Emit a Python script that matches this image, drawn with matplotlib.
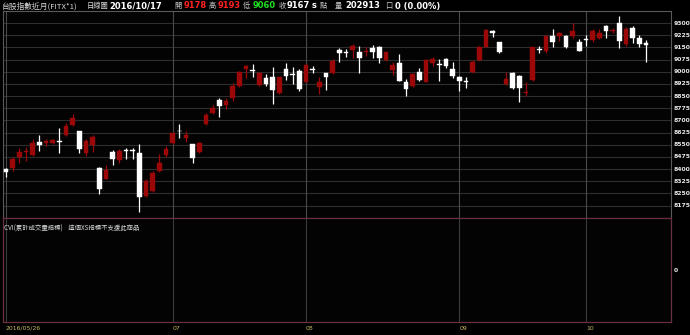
import numpy as np
import matplotlib
matplotlib.use("Agg")
import matplotlib.pyplot as plt

plt.rcParams['font.family'] = ['Noto Sans CJK TC', 'DejaVu Sans']

# daily candles (open, high, low, close), 2016/05/26 .. 2016/10/17
opens = [8399, 8407, 8476, 8503, 8487, 8565, 8559, 8563, 8573, 8610,
         8672, 8635, 8497, 8548, 8409, 8341, 8503, 8456, 8515, 8517,
         8497, 8234, 8267, 8388, 8487, 8559, 8637, 8593, 8553, 8503,
         8678, 8747, 8826, 8795, 8840, 8914, 9015, 9010, 8918, 8963,
         8966, 8867, 9015, 8986, 9004, 8938, 9017, 8908, 8990, 8990,
         9134, 9119, 9134, 9123, 9121, 9148, 9154, 9072, 9010, 9052,
         8938, 8914, 9000, 8938, 9052, 9047, 9076, 9017, 8969, 8945,
         8996, 9072, 9154, 9251, 9181, 8924, 8994, 8973, 8867, 8949,
         9140, 9129, 9220, 9220, 9222, 9222, 9181, 9199, 9195, 9210,
         9282, 9251, 9302, 9169, 9267, 9206, 9178]
highs = [8409, 8473, 8532, 8538, 8584, 8610, 8584, 8587, 8651, 8682,
         8739, 8637, 8584, 8610, 8411, 8425, 8518, 8524, 8532, 8532,
         8553, 8339, 8388, 8493, 8544, 8630, 8676, 8635, 8555, 8567,
         8747, 8795, 8840, 8840, 8929, 9004, 9041, 9046, 8996, 8984,
         9027, 8969, 9052, 9027, 9015, 9046, 9035, 8969, 8994, 9076,
         9144, 9140, 9171, 9158, 9150, 9164, 9156, 9123, 9058, 9109,
         8953, 8990, 9021, 9076, 9089, 9076, 9086, 9062, 8975, 8969,
         9072, 9158, 9261, 9257, 9185, 9000, 8996, 8978, 8938, 9154,
         9158, 9226, 9261, 9246, 9224, 9298, 9201, 9226, 9261, 9261,
         9288, 9267, 9343, 9273, 9282, 9226, 9193]
lows = [8350, 8388, 8436, 8450, 8481, 8513, 8541, 8557, 8501, 8604,
        8666, 8501, 8483, 8507, 8245, 8337, 8425, 8436, 8460, 8460,
        8134, 8226, 8257, 8384, 8476, 8555, 8590, 8565, 8440, 8497,
        8672, 8738, 8723, 8770, 8821, 8908, 8963, 8969, 8914, 8914,
        8801, 8863, 8949, 8924, 8883, 8935, 8990, 8861, 8887, 8984,
        9062, 9092, 9086, 8994, 9097, 9086, 9052, 9066, 8980, 8943,
        8852, 8908, 8945, 8935, 9037, 8945, 9021, 8959, 8883, 8901,
        8994, 9068, 9150, 9212, 9113, 8918, 8893, 8815, 8852, 8945,
        9113, 9113, 9154, 9189, 9148, 9206, 9128, 9160, 9185, 9201,
        9206, 9237, 9144, 9160, 9179, 9150, 9060]
closes = [8381, 8460, 8507, 8513, 8563, 8548, 8571, 8579, 8569, 8667,
          8713, 8522, 8571, 8600, 8276, 8394, 8464, 8512, 8512, 8513,
          8230, 8329, 8378, 8436, 8522, 8624, 8632, 8610, 8467, 8559,
          8733, 8778, 8789, 8820, 8914, 9000, 9035, 9002, 8990, 8924,
          8887, 8966, 8975, 8981, 8892, 9041, 9011, 8938, 8969, 9068,
          9113, 9116, 9158, 9086, 9127, 9119, 9083, 9119, 9041, 8945,
          8892, 8986, 8949, 9072, 9078, 9042, 9035, 8975, 8943, 8938,
          9062, 9154, 9257, 9238, 9123, 8953, 8898, 8901, 8877, 9150,
          9134, 9222, 9185, 9236, 9150, 9253, 9129, 9193, 9253, 9240,
          9253, 9257, 9189, 9263, 9206, 9169, 9167]

month_pos = [0, 25, 45, 68, 87]
month_labels = ['2016/05/26', '07', '08', '09', '10']
price_ticks = list(range(8175, 9301, 75))

header = [  # (x px, text, colour, size, bold)
    (1, '台股指數近月(FITX*1)', '#d8d8d8', 5.6, False),
    (87, '日線圖', '#d8d8d8', 5.2, False),
    (109, '2016/10/17', '#ffffff', 6.0, True),
    (174, '開', '#c8c8c8', 5.2, False),
    (184, '9178', '#ff2020', 6.0, True),
    (209, '高', '#c8c8c8', 5.2, False),
    (218, '9193', '#ff2020', 6.0, True),
    (243, '低', '#c8c8c8', 5.2, False),
    (253, '9060', '#20e020', 6.0, True),
    (279, '收', '#c8c8c8', 5.2, False),
    (287, '9167', '#ffffff', 6.0, True),
    (312, 's', '#ffffff', 6.0, True),
    (320, '點', '#c8c8c8', 5.2, False),
    (335, '量', '#c8c8c8', 5.2, False),
    (345, '202913', '#ffffff', 6.0, True),
    (385, '口', '#c8c8c8', 5.2, False),
    (395, '0 (0.00%)', '#ffffff', 6.0, True),
]

W, H = 690, 335
fig = plt.figure(figsize=(W / 100, H / 100), dpi=100, facecolor='black')

def box(x0, y0, x1, y1):
    return [x0 / W, 1 - y1 / H, (x1 - x0) / W, (y1 - y0) / H]

ax = fig.add_axes(box(3, 11, 671, 218), facecolor='#030303')
ax2 = fig.add_axes(box(3, 218, 671, 322), facecolor='#030303')

o = np.array(opens); c = np.array(closes)
hi = np.array(highs); lo = np.array(lows)
x = np.arange(len(o))
up = c >= o
cols = np.where(up, '#9c0808', '#ffffff')

for p in price_ticks:
    ax.axhline(p, color='#2e2e2e', lw=0.8, zorder=0)
for m in month_pos:
    ax.axvline(m, color='#4a4a4a', lw=0.8, zorder=0)
    ax2.axvline(m, color='#3a3a3a', lw=0.8, zorder=0)

ax.vlines(x, lo, hi, colors=cols, lw=0.9, zorder=2)
ax.bar(x, np.maximum(np.abs(c - o), 5), bottom=np.minimum(o, c), width=0.66,
       color=cols, edgecolor=cols, lw=0.3, zorder=3)

ax.set_xlim(-0.45, 99.75)
ax.set_ylim(8099, 9374)
ax2.set_xlim(-0.45, 99.75)
ax2.set_ylim(-1, 1)

for a in (ax, ax2):
    a.set_xticks([]); a.set_yticks([])
for s in ax.spines.values():
    s.set_color('#5a5a5a'); s.set_linewidth(0.8)
for s in ax2.spines.values():
    s.set_color('#6a3040'); s.set_linewidth(0.9)
ax.spines['bottom'].set_color('#6a3040')

for p in price_ticks:
    ax.text(1.004, p, str(p), transform=ax.get_yaxis_transform(), color='#e8e8e8',
            fontsize=4.4, fontweight='bold', family='DejaVu Sans', va='center', ha='left')
ax2.text(1.004, 0, '0', transform=ax2.get_yaxis_transform(), color='#e8e8e8',
         fontsize=4.4, fontweight='bold', family='DejaVu Sans', va='center', ha='left')

for m, lab in zip(month_pos, month_labels):
    fig.text((3 + (m + 0.45) * 668 / 100.2) / W, 1 - 328.5 / H, lab, color='#c8b860',
             fontsize=4.4, va='center', ha='left', family='DejaVu Sans')

ax2.text(0.002, 0.9, 'CVI(累計成交量指標)    這個XS指標不支援此商品', transform=ax2.transAxes,
         color='#d8d8d8', fontsize=4.6, va='center', ha='left')

for xp, t, col, sz, b in header:
    if b:
        fig.text(xp / W, 1 - 6 / H, t, color=col, fontsize=sz, fontweight='bold',
                 family='DejaVu Sans', va='center', ha='left')
    else:
        fig.text(xp / W, 1 - 6 / H, t, color=col, fontsize=sz, va='center', ha='left')

fig.savefig('out.png', dpi=100, facecolor='black')
